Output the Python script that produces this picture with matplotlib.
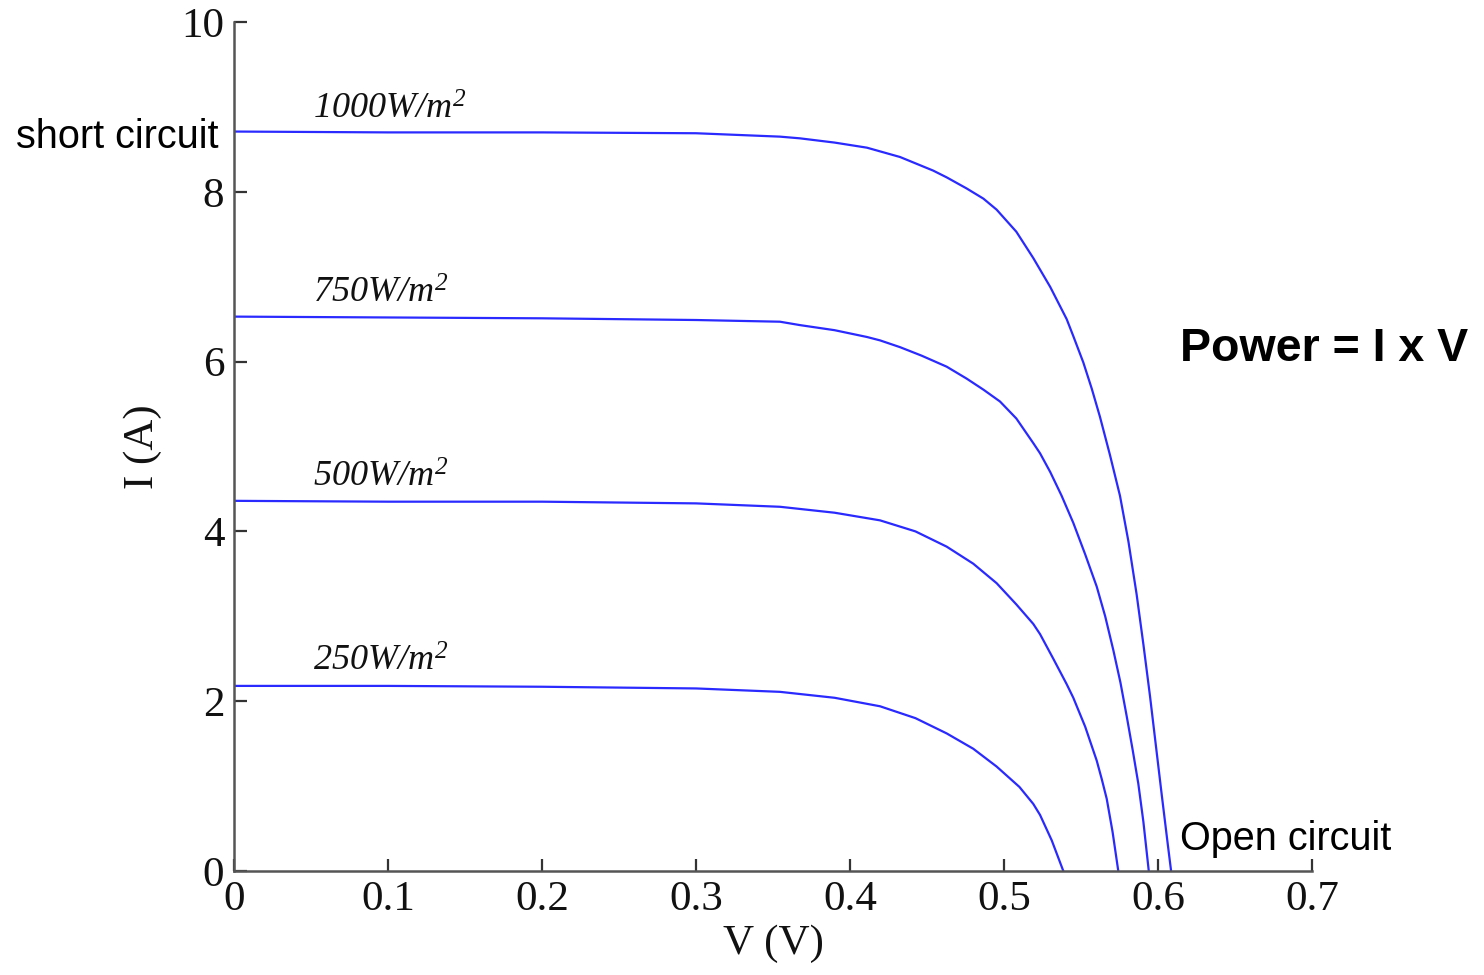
import matplotlib
matplotlib.use("Agg")
import matplotlib.pyplot as plt

# ---- data ----
v_1000 = [0.0, 0.1, 0.2, 0.3, 0.3545, 0.3675, 0.39, 0.411, 0.4325, 0.454, 0.4628, 0.4757, 0.4866,
          0.4952, 0.508, 0.519, 0.530, 0.5407, 0.545, 0.5515, 0.557, 0.5623, 0.5688, 0.5753, 0.5808,
          0.5861, 0.5905, 0.5948, 0.5986, 0.6024, 0.6063, 0.6085]
i_1000 = [8.71, 8.70, 8.70, 8.69, 8.65, 8.63, 8.58, 8.52, 8.41, 8.25, 8.17, 8.04, 7.92,
          7.79, 7.53, 7.22, 6.88, 6.50, 6.30, 5.99, 5.68, 5.35, 4.90, 4.42, 3.88,
          3.26, 2.67, 2.06, 1.48, 0.90, 0.32, 0.0]

v_750 = [0.0, 0.1, 0.2, 0.3, 0.3545, 0.3675, 0.39, 0.411, 0.4195, 0.4325, 0.4465, 0.4628, 0.4757,
         0.4866, 0.4974, 0.508, 0.519, 0.5234, 0.530, 0.5374, 0.545, 0.5527, 0.5602, 0.5657,
         0.571, 0.5756, 0.5797, 0.5836, 0.5872, 0.5905, 0.594]
i_750 = [6.53, 6.52, 6.51, 6.49, 6.47, 6.43, 6.37, 6.29, 6.25, 6.17, 6.07, 5.94, 5.80,
         5.67, 5.53, 5.33, 5.04, 4.92, 4.70, 4.42, 4.10, 3.73, 3.35, 3.00,
         2.60, 2.22, 1.82, 1.42, 1.03, 0.58, 0.0]

v_500 = [0.0, 0.1, 0.2, 0.3, 0.3545, 0.39, 0.4195, 0.4425, 0.4628, 0.4800, 0.4952, 0.508, 0.519,
         0.5234, 0.532, 0.5407, 0.545, 0.5527, 0.5602, 0.5635, 0.5667, 0.5705, 0.5742]
i_500 = [4.36, 4.35, 4.35, 4.33, 4.29, 4.22, 4.13, 4.00, 3.82, 3.62, 3.39, 3.14, 2.91,
         2.79, 2.50, 2.20, 2.04, 1.70, 1.30, 1.08, 0.85, 0.46, 0.0]

v_250 = [0.0, 0.1, 0.2, 0.3, 0.3545, 0.39, 0.4195, 0.4425, 0.4628, 0.4800, 0.4952, 0.510, 0.519,
         0.5234, 0.531, 0.5385]
i_250 = [2.18, 2.18, 2.17, 2.15, 2.11, 2.04, 1.94, 1.80, 1.62, 1.44, 1.23, 0.99, 0.79,
         0.66, 0.36, 0.0]

curve_labels = ["1000W/m", "750W/m", "500W/m", "250W/m"]
label_x = [0.051, 0.051, 0.051, 0.051]
label_y = [8.86, 6.69, 4.52, 2.36]

x_ticks = [0, 0.1, 0.2, 0.3, 0.4, 0.5, 0.6, 0.7]
x_ticklabels = ["0", "0.1", "0.2", "0.3", "0.4", "0.5", "0.6", "0.7"]
y_ticks = [0, 2, 4, 6, 8, 10]
y_ticklabels = ["0", "2", "4", "6", "8", "10"]

plt.rcParams["mathtext.fontset"] = "custom"
plt.rcParams["mathtext.rm"] = "Liberation Serif:italic"
plt.rcParams["mathtext.it"] = "Liberation Serif:italic"

fig = plt.figure(figsize=(14.84, 9.75), dpi=100)
ax = fig.add_axes([0.1577, 0.1067, 0.7264, 0.8707])

line_color = "#2a2aff"
for v, i in [(v_1000, i_1000), (v_750, i_750), (v_500, i_500), (v_250, i_250)]:
    ax.plot(v, i, color=line_color, lw=1.6, solid_joinstyle="round", antialiased=True)

for lab, lx, ly in zip(curve_labels, label_x, label_y):
    ax.text(lx, ly, "$" + lab + "^{2}$", fontsize=26,
            ha="left", va="baseline", color="#111111")

ax.set_xlim(0, 0.7)
ax.set_ylim(0, 10)
ax.set_xticks(x_ticks)
ax.set_xticklabels(x_ticklabels)
ax.set_yticks(y_ticks)
ax.set_yticklabels(y_ticklabels)

for s in ["top", "right"]:
    ax.spines[s].set_visible(False)
for s in ["left", "bottom"]:
    ax.spines[s].set_color("#555555")
    ax.spines[s].set_linewidth(1.8)

ax.tick_params(direction="in", length=9, width=1.6, color="#333333",
               labelsize=31, pad=7)
for lbl in ax.get_xticklabels() + ax.get_yticklabels():
    lbl.set_fontfamily("Liberation Serif")
    lbl.set_color("#111111")

ax.set_xlabel("V (V)", fontsize=31, family="Liberation Serif", labelpad=4, color="#111111")
ax.set_ylabel("I (A)", fontsize=31, family="Liberation Serif", labelpad=14, color="#111111")

fig.text(219 / 1484, 1 - 148 / 975, "short circuit", fontsize=28.5,
         family="Liberation Sans", ha="right", va="baseline")
fig.text(1180 / 1484, 1 - 850 / 975, "Open circuit", fontsize=28.5,
         family="Liberation Sans", ha="left", va="baseline")
fig.text(1180 / 1484, 1 - 361 / 975, "Power = I x V", fontsize=33.5,
         family="Liberation Sans", fontweight="bold", ha="left", va="baseline")

fig.savefig("out.png", dpi=100, facecolor="white")
